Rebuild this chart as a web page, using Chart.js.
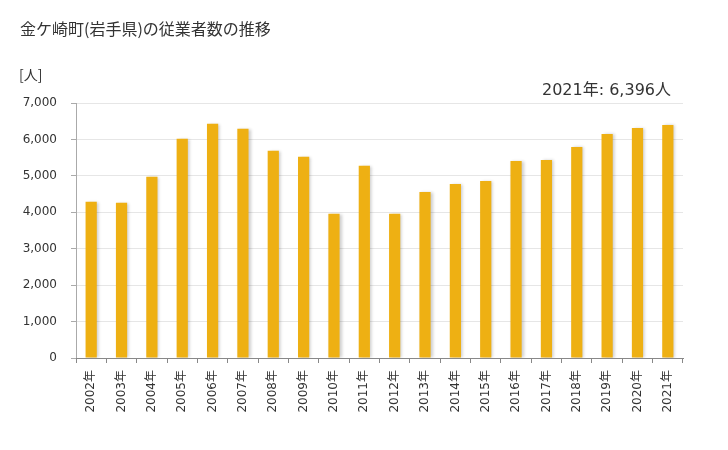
<!DOCTYPE html>
<html>
<head>
<meta charset="utf-8">
<script src="https://cdn.jsdelivr.net/npm/chart.js@4"></script>
<style>
    body {margin: 0; background: #fff;}
    #wrap {position: relative; width: 728px; height: 450px;}
    .txt {position: absolute; color: #333; font-family: 'DejaVu Sans', 'Noto Sans CJK JP', sans-serif; white-space: nowrap;}
    #title {left: 20px; top: 16px; font-size: 16px; font-family: 'Noto Sans CJK JP', sans-serif;}
    #unit {left: 19px; top: 64px; font-size: 14px; font-family: 'Noto Sans CJK JP', sans-serif;}
    #note {right: 57px; top: 76px; font-size: 16px;}
</style>
</head>
<body>
<div id="wrap">
    <canvas id="c" width="728" height="450"></canvas>
    <div class="txt" id="title">金ケ崎町(岩手県)の従業者数の推移</div>
    <div class="txt" id="unit">[人]</div>
    <div class="txt" id="note">2021年: 6,396人</div>
</div>
<script>
// ═══════════════════ DATA ═══════════════════
const years = ['2002年', '2003年', '2004年', '2005年', '2006年', '2007年', '2008年', '2009年', '2010年', '2011年',
    '2012年', '2013年', '2014年', '2015年', '2016年', '2017年', '2018年', '2019年', '2020年', '2021年'];
const workers = [4290, 4263, 4977, 6020, 6432, 6294, 5690, 5526, 3961, 5279,
    3958, 4557, 4777, 4859, 5408, 5435, 5792, 6149, 6314, 6396];
const yTicks = [0, 1000, 2000, 3000, 4000, 5000, 6000, 7000];

// soft gray shadow behind the bars
const barShadow = {
    id: 'barShadow',
    beforeDatasetsDraw(chart) {
        const ctx = chart.ctx;
        ctx.save();
        ctx.shadowColor = 'rgba(0,0,0,0.2)';
        ctx.shadowBlur = 3;
        ctx.shadowOffsetX = 2;
        ctx.shadowOffsetY = 0;
    },
    afterDatasetsDraw(chart) {
        chart.ctx.restore();
    }
};

const font = {family: "'DejaVu Sans', 'Noto Sans CJK JP', sans-serif", size: 12};

new Chart(document.getElementById('c'), {
    type: 'bar',
    data: {
        labels: years,
        datasets: [{
            data: workers,
            backgroundColor: '#eeb013',
            borderWidth: 0,
            categoryPercentage: 1,
            barPercentage: 0.37,
        }]
    },
    options: {
        responsive: false,
        animation: false,
        layout: {padding: {left: 0, right: 45, top: 103, bottom: 0}},
        plugins: {legend: {display: false}, tooltip: {enabled: false}},
        scales: {
            y: {
                min: 0, max: 7000,
                afterBuildTicks: s => { s.ticks = yTicks.map(v => ({value: v})); },
                afterFit: s => { s.width = 76; },
                grid: {color: '#e6e6e6', tickLength: 5, tickColor: '#aaa'},
                border: {color: '#aaa'},
                ticks: {color: '#333', font: font, padding: 14, callback: v => v.toLocaleString('en-US')}
            },
            x: {
                afterFit: s => { s.height = 92; },
                grid: {drawOnChartArea: false, offset: true, tickLength: 5, tickColor: '#888'},
                border: {color: '#888'},
                ticks: {color: '#333', font: font, maxRotation: 90, minRotation: 90, padding: 7, autoSkip: false}
            }
        }
    },
    plugins: [barShadow]
});
</script>
</body>
</html>
